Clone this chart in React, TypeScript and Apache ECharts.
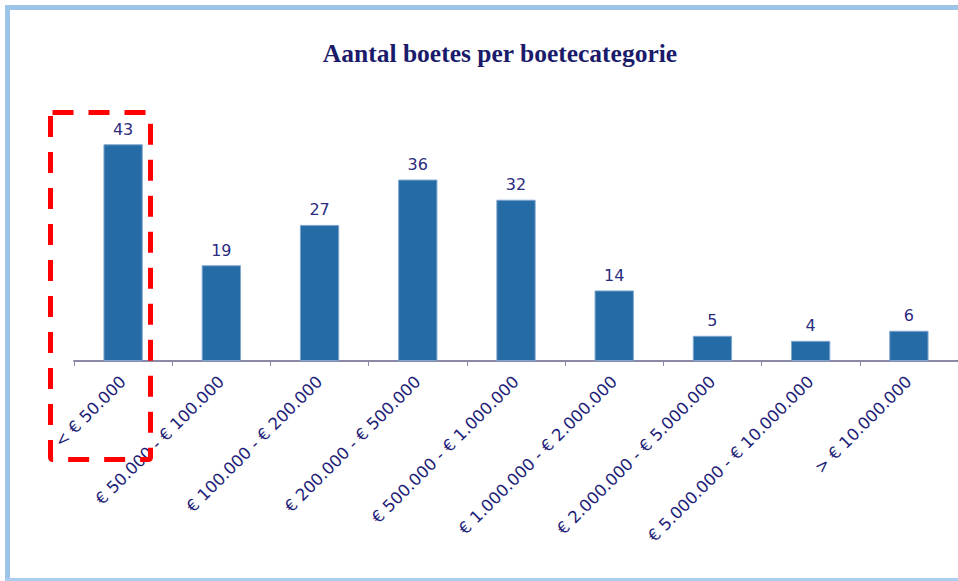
import React, { useEffect, useRef } from "react";
import * as echarts from "echarts";

const categories = [
  "< € 50.000",
  "€ 50.000 - € 100.000",
  "€ 100.000 - € 200.000",
  "€ 200.000 - € 500.000",
  "€ 500.000 - € 1.000.000",
  "€ 1.000.000 - € 2.000.000",
  "€ 2.000.000 - € 5.000.000",
  "€ 5.000.000 - € 10.000.000",
  "> € 10.000.000",
];
const counts = [43, 19, 27, 36, 32, 14, 5, 4, 6];
const titleText = "Aantal boetes per boetecategorie";

export default function App() {
  const ref = useRef<HTMLDivElement>(null);
  useEffect(() => {
    if (!ref.current) return;
    const chart = echarts.init(ref.current, undefined, { renderer: "svg" });
    chart.setOption({
      animation: false,
      backgroundColor: "#ffffff",
      title: {
        text: titleText,
        left: 495,
        top: 35,
        textAlign: "center",
        textStyle: {
          fontFamily: "Liberation Serif",
          fontWeight: "bold",
          fontSize: 25.5,
          color: "#1b1b6b",
        },
      },
      grid: { left: 74, right: 0, top: 109, bottom: 220 },
      xAxis: {
        type: "category",
        data: categories,
        axisLine: { lineStyle: { color: "#8a8aa6", width: 2 } },
        axisTick: { show: true, length: 5, lineStyle: { color: "#8a8aa6", width: 1 } },
        axisLabel: {
          rotate: 45,
          interval: 0,
          margin: 18,
          fontFamily: "DejaVu Sans",
          fontSize: 16.5,
          color: "#1e1e78",
        },
      },
      yAxis: {
        type: "value",
        min: 0,
        max: 50,
        show: false,
        splitLine: { show: false },
      },
      series: [
        {
          type: "bar",
          data: counts,
          barWidth: "40%",
          itemStyle: { color: "#256ba5", borderColor: "#7ea6cf", borderWidth: 1 },
          label: {
            show: true,
            position: "top",
            distance: 7,
            fontFamily: "DejaVu Sans",
            fontSize: 16,
            color: "#2b2b80",
          },
        },
      ],
      graphic: [
        { type: "rect", shape: { x: 5, y: 5, width: 5, height: 576 }, style: { fill: "#9dc3e6" }, silent: true },
        { type: "rect", shape: { x: 5, y: 5, width: 953, height: 5 }, style: { fill: "#9dc3e6" }, silent: true },
        { type: "rect", shape: { x: 5, y: 578, width: 953, height: 3 }, style: { fill: "#a9cdee" }, silent: true },
        {
          type: "rect",
          shape: { x: 50.5, y: 112.5, width: 100, height: 347, r: 2 },
          style: { fill: "none", stroke: "#ff0000", lineWidth: 5, lineDash: [21, 15] },
          silent: true,
          z: 100,
        },
      ],
    });
    return () => chart.dispose();
  }, []);
  return (
    <div
      ref={ref}
      style={{ position: "fixed", left: 0, top: 0, width: 958, height: 581 }}
    />
  );
}
